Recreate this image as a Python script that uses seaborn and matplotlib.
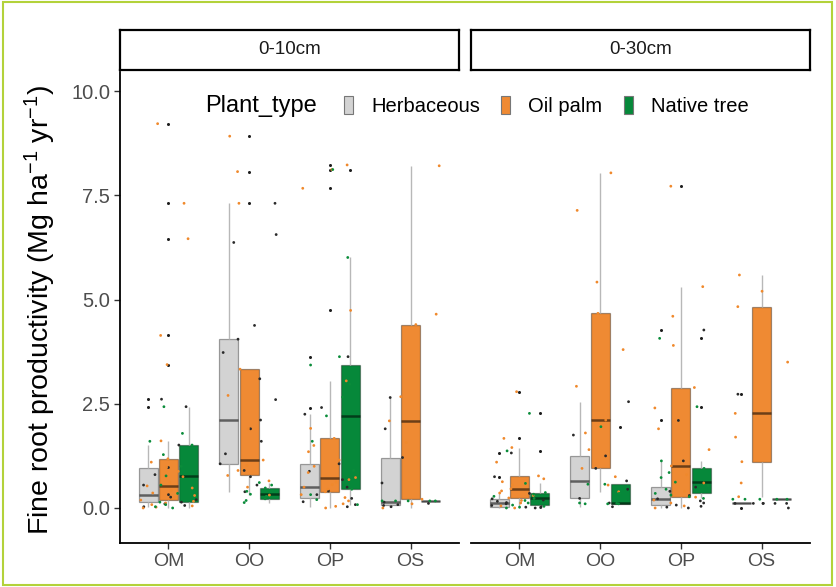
import numpy as np
import pandas as pd
import matplotlib
matplotlib.use("Agg")
import matplotlib.pyplot as plt
import seaborn as sns
from matplotlib.patches import Patch, Rectangle

# ---------------- data ----------------
sites = ["OM", "OO", "OP", "OS"]
plant_types = ["Herbaceous", "Oil palm", "Native tree"]
depths = ["0-10cm", "0-30cm"]
y_ticks = [0.0, 2.5, 5.0, 7.5, 10.0]
y_tick_labels = ["0.0", "2.5", "5.0", "7.5", "10.0"]

# depth 0-10cm
om10_herb = [0.03, 0.06, 0.10, 0.14, 0.20, 0.26, 0.32, 0.55, 0.80, 0.97, 1.51, 2.43, 2.61]
om10_palm = [0.00, 0.02, 0.05, 0.08, 0.12, 0.16, 0.19, 0.25, 0.30, 0.36, 0.42, 0.48, 0.53,
             0.62, 0.75, 0.88, 0.98, 1.10, 1.18, 1.61, 3.44, 4.14, 6.46, 7.31, 9.22]
om10_native = [0.00, 0.03, 0.08, 0.14, 0.35, 0.55, 0.77, 1.00, 1.28, 1.51, 1.60, 1.79, 2.43]
oo10_herb = [0.39, 0.55, 0.75, 0.90, 1.06, 1.30, 1.60, 1.90, 2.11, 2.60, 3.10, 3.73, 4.05,
             4.38, 6.37, 6.56, 7.31]
oo10_palm = [0.31, 0.50, 0.65, 0.78, 0.90, 1.02, 1.15, 1.90, 2.70, 3.33, 7.31, 8.07, 8.92]
oo10_native = [0.13, 0.18, 0.22, 0.28, 0.33, 0.40, 0.48, 0.55, 0.61]
op10_herb = [0.03, 0.08, 0.15, 0.23, 0.32, 0.41, 0.50, 0.68, 0.88, 1.06, 2.25, 2.41, 3.63]
op10_palm = [0.00, 0.04, 0.10, 0.17, 0.25, 0.32, 0.39, 0.45, 0.50, 0.56, 0.62, 0.68, 0.73,
             0.85, 1.00, 1.15, 1.35, 1.50, 1.67, 1.91, 3.05, 4.74, 7.67, 8.12, 8.23]
op10_native = [0.08, 0.20, 0.32, 0.45, 0.90, 1.60, 2.21, 2.66, 2.97, 3.43, 3.63, 6.01, 8.12]
os10_herb = [0.03, 0.06, 0.08, 0.11, 0.14, 0.60, 1.21, 1.90, 2.65]
os10_palm = [0.00, 0.10, 0.21, 1.57, 2.09, 2.67, 4.40, 4.65, 8.21]
os10_native = [0.17, 0.17, 0.17, 0.17, 0.17]

# depth 0-30cm
om30_herb = [0.00, 0.01, 0.02, 0.03, 0.06, 0.10, 0.13, 0.16, 0.19, 0.22, 0.35, 0.75, 1.32]
om30_palm = [0.00, 0.05, 0.12, 0.18, 0.24, 0.30, 0.36, 0.41, 0.46, 0.55, 0.63, 0.70, 0.77,
             1.10, 1.45, 1.67, 2.79]
om30_native = [0.00, 0.02, 0.04, 0.07, 0.12, 0.18, 0.23, 0.28, 0.33, 0.37, 0.59, 1.37, 2.27]
oo30_herb = [0.03, 0.12, 0.23, 0.45, 0.65, 0.95, 1.25, 1.75, 2.55]
oo30_palm = [0.39, 0.55, 0.75, 0.95, 1.40, 1.80, 2.11, 2.92, 3.80, 4.67, 5.42, 7.14, 8.04]
oo30_native = [0.10, 0.10, 0.10, 0.11, 0.12, 0.35, 0.57, 0.57, 1.95]
op30_herb = [0.00, 0.02, 0.04, 0.07, 0.12, 0.17, 0.22, 0.30, 0.40, 0.50, 1.13, 2.10, 4.27]
op30_palm = [0.00, 0.05, 0.12, 0.19, 0.26, 0.40, 0.60, 0.80, 1.01, 1.40, 1.90, 2.40, 2.89,
             3.90, 4.60, 5.31, 7.72]
op30_native = [0.23, 0.27, 0.31, 0.35, 0.45, 0.54, 0.62, 0.73, 0.85, 0.95, 1.13, 2.43, 4.07]
os30_herb = [0.00, 0.11, 0.11, 0.11, 0.11, 0.11, 0.11, 2.73]
os30_palm = [0.27, 0.60, 1.11, 1.70, 2.27, 3.50, 4.83, 5.20, 5.59]
os30_native = [0.21, 0.21, 0.21, 0.21, 0.21]

groups = [
    ("0-10cm", "OM", "Herbaceous", om10_herb), ("0-10cm", "OM", "Oil palm", om10_palm),
    ("0-10cm", "OM", "Native tree", om10_native),
    ("0-10cm", "OO", "Herbaceous", oo10_herb), ("0-10cm", "OO", "Oil palm", oo10_palm),
    ("0-10cm", "OO", "Native tree", oo10_native),
    ("0-10cm", "OP", "Herbaceous", op10_herb), ("0-10cm", "OP", "Oil palm", op10_palm),
    ("0-10cm", "OP", "Native tree", op10_native),
    ("0-10cm", "OS", "Herbaceous", os10_herb), ("0-10cm", "OS", "Oil palm", os10_palm),
    ("0-10cm", "OS", "Native tree", os10_native),
    ("0-30cm", "OM", "Herbaceous", om30_herb), ("0-30cm", "OM", "Oil palm", om30_palm),
    ("0-30cm", "OM", "Native tree", om30_native),
    ("0-30cm", "OO", "Herbaceous", oo30_herb), ("0-30cm", "OO", "Oil palm", oo30_palm),
    ("0-30cm", "OO", "Native tree", oo30_native),
    ("0-30cm", "OP", "Herbaceous", op30_herb), ("0-30cm", "OP", "Oil palm", op30_palm),
    ("0-30cm", "OP", "Native tree", op30_native),
    ("0-30cm", "OS", "Herbaceous", os30_herb), ("0-30cm", "OS", "Oil palm", os30_palm),
    ("0-30cm", "OS", "Native tree", os30_native),
]
rows = [(d, s, p, v) for d, s, p, vals in groups for v in vals]
df = pd.DataFrame(rows, columns=["Depth", "Site", "Plant_type", "value"])

# ---------------- style ----------------
box_colors = {"Herbaceous": "#d3d3d3", "Oil palm": "#ef8a33", "Native tree": "#06883a"}
point_colors = {"Herbaceous": "#2a2a2a", "Oil palm": "#f0892c", "Native tree": "#0a8c3a"}

plt.rcParams["font.family"] = ["Liberation Sans", "DejaVu Sans"]
plt.rcParams["mathtext.fontset"] = "custom"
plt.rcParams["mathtext.rm"] = "Liberation Sans"
plt.rcParams["mathtext.it"] = "Liberation Sans:italic"
plt.rcParams["mathtext.bf"] = "Liberation Sans:bold"

W, H = 836, 587
fig = plt.figure(figsize=(W / 100, H / 100), dpi=100)
fig.patch.set_facecolor("white")

panel_lefts = [120, 471]
panel_width = 339
panel_top, panel_bottom = 72, 543

np.random.seed(7)
axes = []
for i, depth in enumerate(depths):
    ax = fig.add_axes([panel_lefts[i] / W, (H - panel_bottom) / H,
                       panel_width / W, (panel_bottom - panel_top) / H])
    sub = df[df["Depth"] == depth]
    sns.boxplot(data=sub, x="Site", y="value", hue="Plant_type", order=sites,
                hue_order=plant_types, palette=box_colors, saturation=1,
                width=0.75, gap=0.06, dodge=True, linewidth=0.9,
                linecolor="#8c8c8c",
                flierprops=dict(marker="o", markersize=2.2, markerfacecolor="#1e1e1e",
                                markeredgecolor="#1e1e1e", markeredgewidth=0),
                medianprops=dict(color=(0, 0, 0, 0.55), linewidth=1.8),
                whiskerprops=dict(color="#b8b8b8", linewidth=1.0),
                capprops=dict(linewidth=0),
                boxprops=dict(edgecolor=(0, 0, 0, 0.35)),
                legend=False, ax=ax)
    sns.stripplot(data=sub, x="Site", y="value", hue="Plant_type", order=sites,
                  hue_order=plant_types, palette=point_colors, dodge=False,
                  jitter=0.36, size=2.0, linewidth=0, legend=False, ax=ax, zorder=4)
    ax.set_xlim(-0.6, 3.6)
    ax.set_ylim(-0.84, 10.46)
    ax.set_xlabel("")
    ax.set_ylabel("")
    ax.set_facecolor("white")
    for sp in ["top", "right"]:
        ax.spines[sp].set_visible(False)
    ax.spines["bottom"].set_color("black")
    ax.spines["bottom"].set_linewidth(1.3)
    ax.tick_params(axis="x", labelsize=14, labelcolor="#4d4d4d", length=4,
                   width=1, color="#333333", pad=3)
    if i == 0:
        ax.spines["left"].set_color("black")
        ax.spines["left"].set_linewidth(1.3)
        ax.set_yticks(y_ticks)
        ax.set_yticklabels(y_tick_labels)
        ax.tick_params(axis="y", labelsize=14.5, labelcolor="#4d4d4d", length=4,
                       width=1, color="#333333", pad=3)
    else:
        ax.spines["left"].set_visible(False)
        ax.set_yticks(y_ticks)
        ax.tick_params(axis="y", left=False, labelleft=False)
    axes.append(ax)

    # facet strip
    sax = fig.add_axes([panel_lefts[i] / W, (H - 70) / H, panel_width / W, 40 / H])
    sax.set_xticks([])
    sax.set_yticks([])
    sax.set_facecolor("white")
    for sp in sax.spines.values():
        sp.set_color("black")
        sp.set_linewidth(1.6)
    sax.text(0.5, 0.5, depth, ha="center", va="center", fontsize=13.5,
             color="#1a1a1a", transform=sax.transAxes)

# y label
fig.text(40 / W, (H - 310) / H, r"Fine root productivity (Mg ha$^{-1}$ yr$^{-1}$)",
         rotation=90, ha="center", va="center", fontsize=20.5, color="black")

# legend
fig.text(205 / W, (H - 106) / H, "Plant_type", ha="left", va="center",
         fontsize=17, color="black")
handles = [Patch(facecolor=box_colors[p], edgecolor="#777777", linewidth=0.8)
           for p in plant_types]
fig.legend(handles, plant_types, loc="center left",
           bbox_to_anchor=(344 / W, (H - 106) / H), ncol=3, frameon=False,
           fontsize=14.5, handlelength=0.45, handleheight=1.0, handletextpad=0.9,
           columnspacing=1.05, borderaxespad=0, borderpad=0)

# outer light-green frame
fig.patches.append(Rectangle((0.003, 0.003), 0.992, 0.994, transform=fig.transFigure,
                             fill=False, edgecolor="#b3d23a", linewidth=1.5))

fig.savefig("out.png", dpi=100)
